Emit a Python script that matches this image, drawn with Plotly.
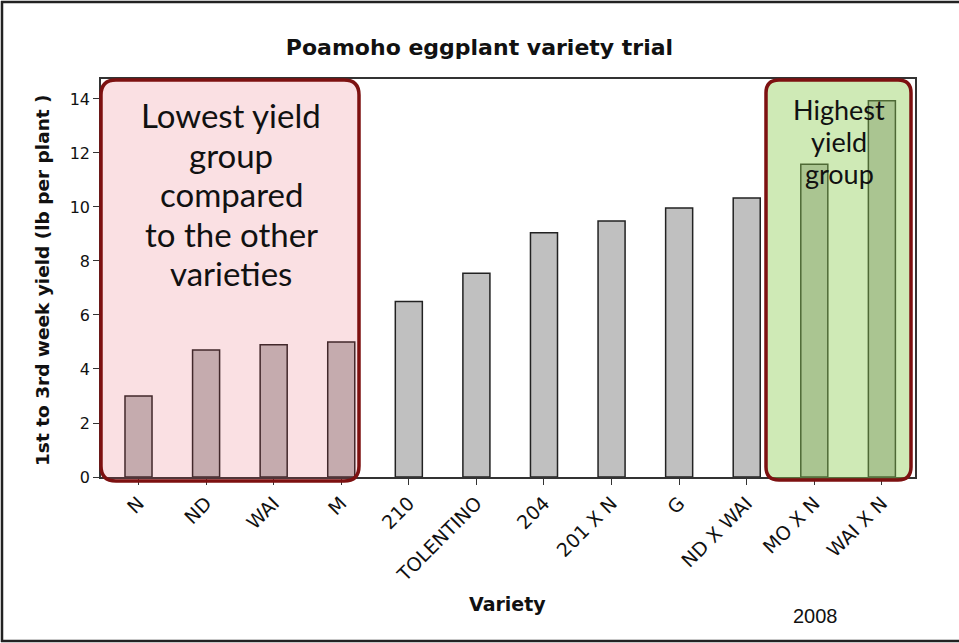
import plotly.graph_objects as go

# ---- data ----
varieties = ["N", "ND", "WAI", "M", "210", "TOLENTINO", "204", "201 X N", "G",
             "ND X WAI", "MO X N", "WAI X N"]
yield_lb = [3.0, 4.7, 4.9, 5.0, 6.5, 7.55, 9.05, 9.48, 9.96, 10.33, 11.58, 13.93]
y_ticks = [0, 2, 4, 6, 8, 10, 12, 14]
low_text = ["Lowest yield", "group", "compared", "to the other", "varieties"]
high_text = ["Highest", "yield", "group"]

W, H = 959, 643
L, R, T, B = 101, 915, 79, 477  # plot area in pixels


def px(x):
    return (x - L) / (R - L)


def py(y):
    return (B - y) / (B - T)


def rounded_path(x0, y0, x1, y1, r):
    pts = [
        ("M", [(x0 + r, y0)]),
        ("L", [(x1 - r, y0)]),
        ("Q", [(x1, y0), (x1, y0 + r)]),
        ("L", [(x1, y1 - r)]),
        ("Q", [(x1, y1), (x1 - r, y1)]),
        ("L", [(x0 + r, y1)]),
        ("Q", [(x0, y1), (x0, y1 - r)]),
        ("L", [(x0, y0 + r)]),
        ("Q", [(x0, y0), (x0 + r, y0)]),
    ]
    s = ""
    for cmd, ps in pts:
        s += cmd + " " + " ".join(f"{px(a):.5f},{py(b):.5f}" for a, b in ps) + " "
    return s + "Z"


fig = go.Figure()
fig.add_trace(go.Bar(
    x=list(range(len(varieties))), y=yield_lb, width=0.4,
    marker=dict(color="#c0c0c0", line=dict(color="#222222", width=1.5)),
    hoverinfo="skip",
))

shapes = [
    dict(type="line", xref="paper", yref="paper", x0=px(2), x1=px(2), y0=py(1), y1=py(642),
         line=dict(color="#222", width=2.5)),
    dict(type="line", xref="paper", yref="paper", x0=px(1), x1=px(960), y0=py(2), y1=py(2),
         line=dict(color="#222", width=2.5)),
    dict(type="line", xref="paper", yref="paper", x0=px(1), x1=px(960), y0=py(641), y1=py(641),
         line=dict(color="#222", width=2.5)),
    dict(type="path", xref="paper", yref="paper", path=rounded_path(101, 80, 359, 481, 15),
         fillcolor="rgba(225,70,90,0.17)", line=dict(color="#7d1111", width=3.5), layer="above"),
    dict(type="path", xref="paper", yref="paper", path=rounded_path(766, 80, 911, 480, 13),
         fillcolor="rgba(140,205,80,0.42)", line=dict(color="#7d1111", width=3.5), layer="above"),
]

annotations = []
for i, t in enumerate(low_text):
    annotations.append(dict(xref="paper", yref="paper", x=px(231), y=py(115 + 39.5 * i),
                            text=t, showarrow=False, xanchor="center", yanchor="middle",
                            font=dict(family="Lato", size=33, color="#111")))
for i, t in enumerate(high_text):
    annotations.append(dict(xref="paper", yref="paper", x=px(839), y=py(110 + 31.5 * i),
                            text=t, showarrow=False, xanchor="center", yanchor="middle",
                            font=dict(family="Lato", size=27, color="#111")))
annotations.append(dict(xref="paper", yref="paper", x=px(507), y=py(604), text="<b>Variety</b>",
                        showarrow=False, xanchor="center", yanchor="middle",
                        font=dict(family="DejaVu Sans", size=19, color="#111")))
annotations.append(dict(xref="paper", yref="paper", x=px(815), y=py(616), text="2008",
                        showarrow=False, xanchor="center", yanchor="middle",
                        font=dict(family="Liberation Sans", size=20, color="#111")))
annotations.append(dict(xref="paper", yref="paper", x=px(42), y=py(280),
                        text="<b>1st to 3rd week yield (lb per plant )</b>",
                        showarrow=False, textangle=-90, xanchor="center", yanchor="middle",
                        font=dict(family="DejaVu Sans", size=18.5, color="#111")))

fig.update_layout(
    width=W, height=H,
    margin=dict(l=L, r=W - R, t=T, b=H - B, pad=0),
    paper_bgcolor="white", plot_bgcolor="white",
    showlegend=False,
    title=dict(text="<b>Poamoho eggplant variety trial</b>", x=0.5, xref="container",
               y=1 - 47 / H, yref="container", xanchor="center", yanchor="middle",
               font=dict(family="DejaVu Sans", size=22, color="#111")),
    xaxis=dict(range=[-0.555, 11.49], tickmode="array", tickvals=list(range(len(varieties))),
               ticktext=varieties, tickangle=-45, ticks="outside", ticklen=6, tickcolor="#333",
               showline=True, linecolor="#333", linewidth=1.5, mirror=True, showgrid=False,
               zeroline=False, tickfont=dict(family="DejaVu Sans", size=19, color="#111")),
    yaxis=dict(range=[0, 14.74], tickmode="array", tickvals=y_ticks, ticks="outside",
               ticklen=6, tickcolor="#333", showline=True, linecolor="#333", linewidth=1.5,
               mirror=True, showgrid=False, zeroline=False,
               tickfont=dict(family="DejaVu Sans", size=16, color="#111")),
    shapes=shapes, annotations=annotations,
)

fig.write_html("out.html", config={"displayModeBar": False},
               post_script="document.body.style.margin='0';document.body.style.overflow='hidden';")
